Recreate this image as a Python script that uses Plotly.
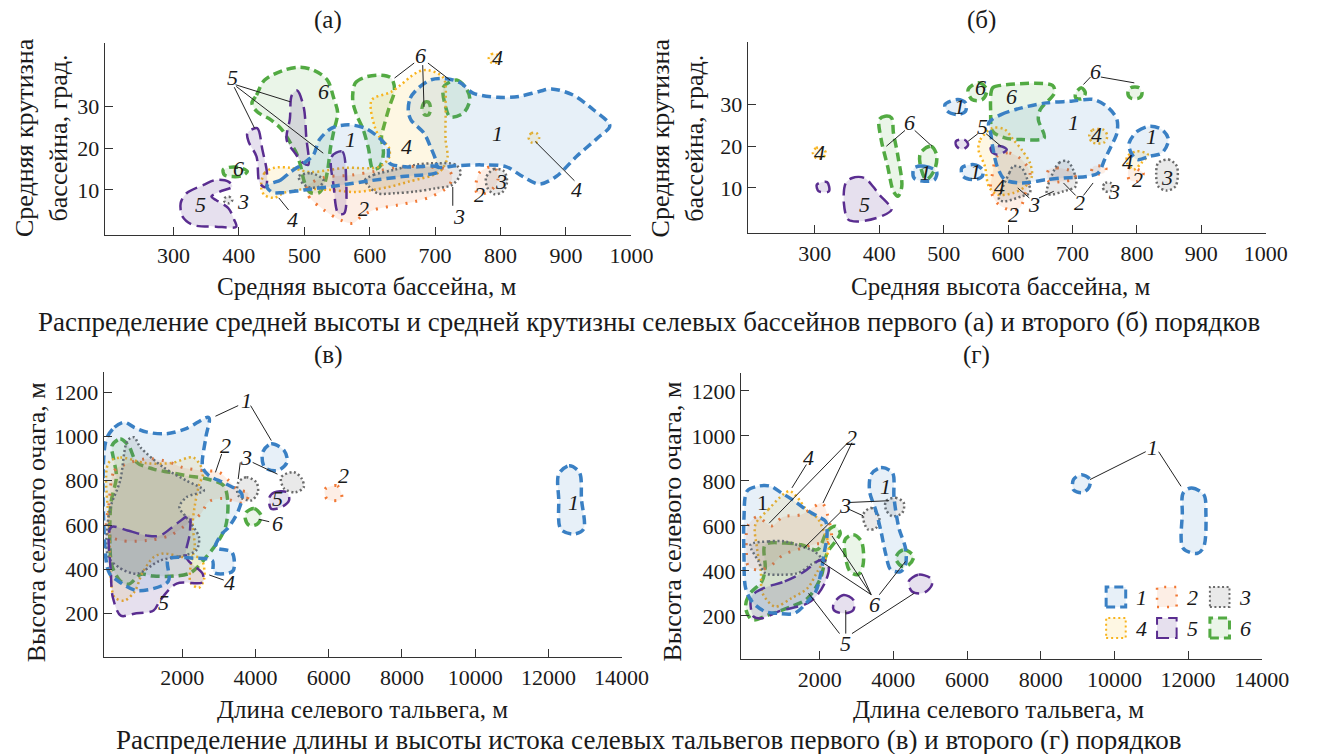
import plotly.graph_objects as go

FONT = "Liberation Serif"
W, H = 1326, 754

# ---------------- class styles ----------------
CLASSES = [1, 2, 3, 4, 5, 6]
LINE_COLORS = {1: "#3a80c4", 2: "#f27935", 3: "#6b6b6b", 4: "#f8b41e", 5: "#5a2d90", 6: "#52aa42"}
FILL_COLORS = {1: "rgba(58,128,196,0.12)", 2: "rgba(242,121,53,0.13)", 3: "rgba(107,107,107,0.15)",
               4: "rgba(248,190,40,0.13)", 5: "rgba(90,45,144,0.15)", 6: "rgba(82,170,66,0.12)"}
DASHES = {1: "9px,5px", 2: "2px,8px", 3: "2px,2.5px", 4: "2px,3px", 5: "12px,6px", 6: "9px,5px"}
WIDTHS = {1: 3.5, 2: 3, 3: 2.5, 4: 2.5, 5: 2.5, 6: 3.5}

# ---------------- panel (а) ----------------
a1_big = [(659, 29), (662, 32), (675, 34.5), (694, 36.4), (720, 36.6), (739, 35.6), (758, 33.2), (796, 32.2),
          (828, 32.4), (859, 33.6), (878, 34.2), (910, 32.8), (942, 29.2), (967, 25.4), (948, 22.4), (916, 18),
          (885, 13.2), (859, 11.4), (834, 13.2), (808, 15.6), (771, 16), (732, 15.8), (704, 15.5), (701, 17.2),
          (693, 20.3), (683, 23.6), (663, 26.8)]
a1_left = [(443, 11), (464, 12.4), (479, 14.3), (499, 16.4), (514, 18.4), (523, 22), (542, 24.8), (567, 25.6),
           (593, 24.8), (612, 22.8), (628, 20), (630, 16.5), (660, 15.5), (704, 15.5), (704, 14.3), (650, 13.2),
           (600, 12.2), (550, 11), (500, 10), (464, 9.3), (450, 9.5)]
a2_main = [(504, 10.8), (507, 8.4), (530, 5.2), (555, 2.8), (574, 2), (587, 3.6), (606, 5.2), (644, 6.4),
           (669, 7.2), (694, 8.4), (720, 10.8), (726, 13.2), (720, 14.8), (690, 15.5), (650, 15.5), (610, 14.5),
           (570, 13.5), (530, 13)]
a2_small = [(764, 9.2), (767, 14), (790, 15.6), (796, 12.4), (783, 9.6)]
a3_main = [(593, 12.4), (606, 13.6), (637, 14.8), (669, 16), (701, 16.4), (732, 16), (739, 14), (726, 11.2),
           (701, 10.4), (669, 9.6), (637, 9.2), (612, 9.2), (599, 10.8)]
a3_mid = [(491, 13.2), (510, 14), (529, 12.4), (523, 10.8), (504, 10.8)]
a3_right = [(778, 13), (790, 15), (805, 14.5), (810, 12), (803, 9.5), (790, 9), (780, 10.5)]
a3_tiny = [(378, 8), (385, 8.4), (390, 7.6), (385, 6.8), (378, 7.2)]
a4_main = [(434, 10.7), (439, 14), (454, 15.3), (479, 15.3), (509, 14.3), (563, 15.3), (614, 15.5), (630, 17.9),
           (629, 20.3), (618, 22), (608, 25), (603, 31.5), (633, 33.5), (674, 38.3), (689, 38.7), (713, 36.8),
           (716, 30), (716, 22), (719, 17.9), (713, 15.5), (704, 14), (660, 12), (629, 10.7), (578, 9.5),
           (540, 10), (500, 10.2), (469, 9.3), (454, 8.1), (439, 8.8)]
a4_top = [(782, 41.5), (786, 42.5), (794, 42.5), (798, 41.5), (794, 40.5), (786, 40.5)]
a4_right = [(843, 22.5), (847, 23.6), (855, 23.6), (859, 22.5), (855, 21.4), (847, 21.4)]
a5_c = [(311, 6.8), (320, 9.2), (346, 11.2), (365, 12.4), (384, 12), (390, 10.8), (371, 9.6), (358, 8.4),
        (365, 7.6), (384, 5.6), (393, 2.8), (396, 1.2), (365, 1.2), (330, 1.6), (314, 3.6)]
a5_a = [(413, 23.6), (428, 24.8), (436, 19.6), (443, 14), (441, 10.7), (432, 11.5), (427, 18), (415, 21.5)]
a5_b = [(481, 32.7), (489, 33.8), (499, 29.9), (503, 22.7), (506, 16), (498, 16.5), (485, 19), (473, 22), (478, 27)]
a5_d = [(542, 18), (558, 19.2), (564, 12.4), (561, 4.4), (552, 4.4), (545, 10.8)]
a6_big = [(420, 30.8), (427, 32.7), (439, 36.3), (469, 38.7), (494, 39.4), (514, 38.7), (535, 36.4), (545, 32),
          (551, 28.5), (545, 24), (540, 20), (536, 15), (530, 11), (522, 9.3), (508, 9.5), (500, 12), (494, 16),
          (488, 18.8), (479, 21.2), (466, 24.4), (449, 26.8), (428, 28.7)]
a6_small = [(376, 14.8), (385, 15.4), (400, 15.4), (413, 14.4), (405, 13.4), (390, 13.2), (378, 13.6)]
a6_mid = [(574, 31.5), (578, 35.6), (593, 37), (617, 37.5), (633, 36.8), (638, 33.9), (630, 29.9), (623, 26),
          (618, 22.7), (621, 18.8), (615, 15.5), (605, 15), (598, 20), (590, 24.5), (580, 28)]
a6_right = [(713, 34.7), (734, 36.3), (749, 33.9), (753, 31.5), (743, 28.4), (723, 27.5), (716, 29.9)]
a6_tiny = [(680, 29.5), (684, 31), (690, 31), (693, 29.5), (690, 28), (684, 28)]

A_LABELS = [("1", 571, 22), ("1", 796, 23.6), ("2", 590, 5.6), ("2", 768, 8.8), ("3", 406, 7.2), ("3", 800, 12),
            ("3", 736, 3.6), ("4", 656, 20.4), ("4", 796, 41.8), ("4", 482, 3.0), ("4", 916, 10),
            ("5", 342, 6.4), ("5", 390, 37), ("6", 399, 15.2), ("6", 530, 33.6), ("6", 678, 42.3)]
A_LEADERS = [((395, 35.2), (479, 31.1)), ((393, 34.6), (424, 24.8)), ((396, 34.8), (529, 18.8)),
             ((668, 40.4), (638, 36.8)), ((681, 39.9), (683, 29.9)), ((689, 40.4), (723, 36.3)),
             ((476, 5.2), (461, 8.1)), ((727, 6.2), (727, 10.7)), ((913, 12.2), (853, 21.6))]

# ---------------- panel (б) ----------------
b1_big = [(570, 25.6), (589, 27.6), (621, 29.2), (660, 30.4), (698, 30.8), (733, 31.2), (756, 29.2), (769, 26.4),
          (769, 23.2), (760, 20), (750, 16.8), (740, 13.6), (724, 12.8), (686, 12.4), (660, 12), (621, 11.2),
          (595, 12), (583, 15.2), (576, 20), (573, 23.2)]
b1_s1 = [(502, 30), (522, 31.2), (534, 30.4), (534, 28.4), (522, 27.6), (506, 28.4)]
b1_s2 = [(528, 14.8), (547, 15.6), (560, 14.4), (560, 12.8), (547, 12), (530, 12.8)]
b1_s3 = [(454, 14.8), (470, 15.2), (489, 14), (486, 12), (470, 11.6), (454, 12.4)]
b1_s4 = [(788, 20.8), (801, 23.6), (820, 24.8), (839, 24), (849, 21.6), (839, 18.4), (820, 17.6), (801, 16.8),
         (791, 18.4)]
b2_a = [(583, 17.6), (602, 18.4), (621, 16.8), (634, 13.6), (627, 8.8), (618, 5.2), (602, 4.8), (583, 6.4),
        (573, 9.6), (576, 13.6)]
b2_b = [(663, 14.4), (676, 14.8), (698, 14), (705, 12.4), (686, 11.6), (663, 11.6)]
b2_c = [(733, 15.2), (752, 14.8), (749, 13.6), (730, 13.6)]
b2_d = [(788, 14.8), (810, 13.6), (801, 11.6), (788, 12)]
b3_a = [(586, 7.2), (602, 13.6), (608, 15.2), (621, 14.8), (630, 12), (634, 8.8), (621, 8), (595, 6.8)]
b3_b = [(660, 8.8), (679, 16), (692, 16.4), (702, 14), (705, 10.4), (686, 9.2), (666, 8.4)]
b3_c = [(747, 10.2), (751, 11.2), (759, 11.2), (763, 10.2), (759, 9.2), (751, 9.2)]
b3_d = [(833, 16), (849, 16.8), (862, 15.2), (860, 10.4), (846, 9.4), (833, 10.4), (830, 13.6)]
b4_a = [(297, 18.4), (302, 19.6), (312, 19.6), (317, 18.4), (312, 17.2), (302, 17.2)]
b4_b = [(554, 19.2), (557, 21.6), (576, 24.4), (595, 24), (608, 21.6), (621, 19.2), (634, 16), (637, 12.8),
        (627, 10.4), (608, 8.8), (583, 8.4), (570, 10.4), (564, 15.2)]
b4_c = [(726, 22.4), (731, 23.9), (749, 23.9), (754, 22.4), (749, 20.9), (731, 20.9)]
b4_d = [(785, 17.6), (801, 18.8), (817, 18), (807, 16), (795, 14.4), (785, 16)]
b5_a = [(303, 10.8), (319, 11.4), (322, 9.2), (306, 9.2)]
b5_b = [(348, 11.2), (358, 12.4), (377, 12.4), (390, 10.4), (400, 8.4), (419, 4.8), (403, 3.2), (371, 2),
        (352, 2.4), (345, 6.4)]
b5_c = [(519, 21.2), (532, 21.6), (538, 20.4), (529, 19.2), (520, 20)]
b5_d = [(573, 19.6), (589, 20), (598, 19.2), (586, 18), (576, 18.4)]
b6_a = [(400, 26.4), (409, 27.2), (419, 26.8), (422, 23.2), (429, 17.6), (435, 10.4), (429, 8), (422, 9.2),
        (413, 15.2), (403, 21.6)]
b6_b = [(464, 18.4), (480, 20), (489, 18), (486, 14.4), (473, 12), (464, 15.2)]
b6_c = [(538, 33.6), (554, 35.2), (567, 33.6), (560, 31.2), (544, 31.2)]
b6_d = [(573, 28), (576, 34), (589, 34.6), (669, 34.6), (672, 32.8), (650, 28.8), (647, 26.4), (656, 22),
        (621, 21.6), (595, 22), (576, 23.6)]
b6_e = [(705, 32.8), (714, 34), (720, 32.8), (714, 31.4), (705, 31.6)]
b6_f = [(786, 32.8), (790, 34), (804, 34), (808, 32.8), (804, 31.6), (790, 31.6)]

B_LABELS = [("1", 525, 29.6), ("1", 701, 25.6), ("1", 550, 14), ("1", 472, 13.6), ("1", 823, 22.4),
            ("2", 608, 3.6), ("2", 711, 6.4), ("2", 801, 12), ("3", 641, 6), ("3", 765, 9.2), ("3", 846, 12.4),
            ("4", 307, 18.4), ("4", 738, 22.8), ("4", 586, 10.4), ("4", 785, 16.4), ("5", 377, 6),
            ("5", 560, 24.8), ("6", 447, 25.6), ("6", 605, 32), ("6", 557, 34), ("6", 736, 38)]
B_LEADERS = [((440, 23.8), (411, 20)), ((455, 23.8), (482, 20)), ((728, 36.6), (717, 34.8)),
             ((744, 36.6), (796, 35.2)), ((553, 23), (538, 21.2)), ((566, 23), (589, 20)),
             ((633, 7.6), (615, 10)), ((648, 7.6), (671, 9.2)), ((705, 8.2), (686, 11.2)),
             ((717, 8.2), (732, 11.2))]

# ---------------- panel (в) ----------------
c1_big = [(-90, 980), (147, 1042), (414, 1065), (682, 1042), (1037, 1020), (1571, 1013), (2106, 1036), (2722, 1086),
          (2642, 997), (2553, 861), (2722, 824), (3176, 787), (3622, 741), (3530, 665), (3260, 589), (3088, 561),
          (2909, 499), (3355, 477), (3390, 394), (3176, 380), (2856, 386), (2820, 439), (2300, 450), (1614, 445),
          (1614, 345), (768, 303), (236, 348), (13, 380), (-90, 450)]
c1_s = [(4194, 929), (4425, 967), (4780, 937), (4860, 884), (4594, 846), (4247, 861)]
c1_far = [(12283, 830), (12565, 868), (12848, 838), (12904, 717), (12961, 581), (12678, 559), (12339, 581),
          (12283, 717)]
c2_big = [(0, 700), (147, 846), (503, 878), (1037, 900), (1652, 884), (2005, 860), (2553, 846), (3000, 839),
          (3269, 801), (3500, 760), (3800, 745), (3700, 700), (3100, 720), (2722, 705), (2500, 650), (2100, 600),
          (1652, 552), (1037, 530), (318, 530), (-50, 560)]
c2_small = [(5898, 762), (6237, 777), (6350, 717), (5955, 717)]
c3_big = [(-30, 460), (318, 403), (768, 380), (1390, 439), (2018, 461), (2373, 484), (2456, 544), (2106, 635),
          (1920, 680), (2106, 725), (2589, 756), (2106, 801), (1483, 861), (852, 952), (682, 997), (503, 982),
          (300, 800), (13, 665)]
c3_s1 = [(3530, 793), (3750, 816), (4020, 793), (4063, 748), (3880, 711), (3530, 733)]
c3_s2 = [(4700, 816), (5047, 839), (5260, 810), (5315, 771), (5090, 748), (4780, 765)]
c4_big = [(-20, 880), (305, 905), (1000, 880), (1700, 880), (2300, 905), (2565, 838), (2452, 778), (2339, 687),
          (2282, 596), (2339, 505), (2226, 415), (2226, 339), (2452, 316), (2600, 360), (2500, 450), (2000, 455),
          (1483, 471), (1214, 454), (900, 380), (700, 300), (414, 258), (147, 273), (50, 348), (13, 561)]
c5_big = [(50, 590), (503, 575), (1037, 552), (1390, 552), (1845, 606), (2193, 642), (2200, 560), (2106, 454),
          (2553, 380), (2553, 341), (1845, 335), (1390, 258), (1214, 213), (682, 199), (318, 190), (100, 273),
          (50, 380)]
c5_s = [(4380, 725), (4514, 748), (4860, 748), (4914, 711), (4700, 680), (4425, 674)]
c6_big = [(79, 959), (305, 989), (531, 959), (757, 883), (1209, 853), (1661, 838), (2113, 823), (2678, 808),
          (3130, 778), (3243, 702), (3186, 596), (3017, 536), (2678, 460), (2226, 384), (1774, 369), (1209, 369),
          (870, 377), (531, 332), (305, 347), (79, 415), (22, 505), (50, 700), (200, 820), (120, 900)]
c6_s = [(3750, 658), (3965, 674), (4153, 642), (4063, 606), (3840, 597), (3720, 628)]

C_LABELS = [("1", 3752, 1163), ("2", 3187, 959), ("3", 3752, 906), ("2", 6407, 823), ("5", 4600, 722),
            ("6", 4600, 606), ("4", 3300, 339), ("5", 1492, 248), ("1", 12678, 702)]
C_LEADERS = [((3526, 1140), (2904, 1092)), ((3865, 1140), (4430, 982)), ((3074, 921), (2904, 838)),
             ((3582, 883), (3526, 808)), ((3921, 883), (4599, 830)), ((4373, 615), (4091, 626)),
             ((3130, 351), (2735, 374))]

# ---------------- panel (г) ----------------
d1_big = [(-55, 635), (32, 755), (343, 777), (654, 777), (962, 747), (1318, 710), (1627, 673), (1937, 643),
          (2158, 621), (2200, 560), (2115, 472), (2025, 383), (1893, 308), (1672, 263), (1318, 211), (875, 211),
          (521, 219), (165, 263), (-10, 323), (-55, 472)]
d1_tall = [(3399, 829), (3664, 859), (3975, 836), (4018, 725), (4150, 591), (4329, 501), (4329, 427), (4196, 397),
           (3930, 405), (3797, 472), (3664, 576), (3531, 665), (3354, 755)]
d1_s = [(8888, 806), (9112, 828), (9337, 806), (9303, 769), (9112, 747), (8888, 761)]
d1_far = [(11865, 746), (12090, 769), (12427, 739), (12483, 657), (12427, 508), (12258, 478), (11865, 501),
          (11843, 657)]
d2_big = [(11, 493), (50, 600), (300, 640), (700, 600), (1000, 640), (1500, 650), (1865, 687), (2067, 702),
          (2225, 642), (2315, 538), (2180, 523), (1900, 520), (1500, 500), (1000, 470), (650, 420), (348, 404),
          (67, 419)]
d3_big = [(123, 516), (609, 531), (1053, 531), (1495, 509), (1849, 487), (2025, 457), (1760, 427), (1406, 390),
          (962, 383), (521, 390), (343, 442)]
d3_s1 = [(3178, 650), (3399, 680), (3619, 635), (3531, 591), (3310, 584)]
d3_s2 = [(3797, 710), (4063, 725), (4284, 702), (4240, 658), (3975, 643), (3797, 673)]
d4_big = [(255, 606), (609, 673), (1008, 740), (1186, 755), (1406, 725), (1672, 665), (1937, 635), (2115, 576),
          (2248, 516), (2204, 472), (1937, 397), (1672, 323), (1230, 278), (787, 241), (450, 300), (400, 400),
          (300, 500)]
d5_big = [(476, 323), (1053, 353), (1584, 397), (1937, 442), (2115, 450), (2248, 412), (2159, 353), (1937, 293),
          (1672, 256), (875, 219), (431, 189), (210, 196), (123, 249), (165, 290)]
d5_s1 = [(2382, 256), (2648, 293), (2913, 271), (2913, 226), (2648, 211), (2382, 226)]
d5_s2 = [(4417, 353), (4683, 383), (5001, 368), (5046, 338), (4815, 301), (4506, 308)]
d6_big = [(521, 516), (1053, 524), (1495, 516), (1937, 494), (2204, 576), (2425, 598), (2558, 568), (2425, 531),
          (2200, 480), (2025, 368), (1672, 278), (1230, 241), (609, 204), (165, 182), (-10, 234), (78, 293),
          (431, 353), (521, 412)]
d6_s1 = [(2690, 539), (2913, 561), (3133, 531), (3178, 427), (3045, 383), (2825, 397), (2690, 472)]
d6_s2 = [(4063, 457), (4284, 494), (4550, 464), (4417, 427), (4240, 420)]

D_LABELS = [("1", 11022, 947), ("1", 3775, 776), ("2", 2876, 992), ("4", 1697, 903), ("3", 2680, 690),
            ("6", 3480, 250), ("5", 2708, 76)]
D_UPRIGHT_LABELS = [("1", 461, 702)]
D_LEADERS = [((10850, 930), (9337, 806)), ((11200, 930), (11809, 776)), ((2764, 970), (629, 612)),
             ((2876, 970), (2090, 702)), ((1640, 873), (1247, 769)), ((2780, 704), (3885, 712)),
             ((2780, 675), (3178, 645)), ((2558, 660), (1584, 503)), ((3399, 294), (2025, 443)),
             ((3399, 294), (2336, 555)), ((3399, 294), (3133, 390)), ((3619, 294), (4329, 442)),
             ((2539, 121), (1697, 300)), ((2708, 121), (2708, 225)), ((2876, 121), (4562, 300))]

# ---------------- axes ----------------
X_TICKS_AB = [300, 400, 500, 600, 700, 800, 900, 1000]
Y_TICKS_AB = [10, 20, 30]
X_TICKS_CD = [2000, 4000, 6000, 8000, 10000, 12000, 14000]
Y_TICKS_CD = [200, 400, 600, 800, 1000, 1200]

PANELS = {
    "a": dict(ax="", px=(107, 645), py=(43, 235), xr=[195, 1000], yr=[-0.8, 45.2], xt=X_TICKS_AB, yt=Y_TICKS_AB,
              polys={1: [a1_big, a1_left], 2: [a2_main, a2_small], 3: [a3_main, a3_mid, a3_right, a3_tiny],
                     4: [a4_main, a4_top, a4_right], 5: [a5_c, a5_a, a5_b, a5_d],
                     6: [a6_big, a6_small, a6_mid, a6_right, a6_tiny]},
              labels=A_LABELS, leaders=A_LEADERS),
    "b": dict(ax="2", px=(764, 1293), py=(42, 233), xr=[196, 1000], yr=[-0.8, 45], xt=X_TICKS_AB, yt=Y_TICKS_AB,
              polys={1: [b1_big, b1_s1, b1_s2, b1_s3, b1_s4], 2: [b2_a, b2_b, b2_c, b2_d],
                     3: [b3_a, b3_b, b3_c, b3_d], 4: [b4_a, b4_b, b4_c, b4_d], 5: [b5_a, b5_b, b5_c, b5_d],
                     6: [b6_a, b6_b, b6_c, b6_d, b6_e, b6_f]},
              labels=B_LABELS, leaders=B_LEADERS),
    "c": dict(ax="3", px=(106, 635), py=(372, 657), xr=[-147, 14000], yr=[3, 1292], xt=X_TICKS_CD, yt=Y_TICKS_CD,
              polys={1: [c1_big, c1_s, c1_far], 2: [c2_big, c2_small], 3: [c3_big, c3_s1, c3_s2],
                     4: [c4_big], 5: [c5_big, c5_s], 6: [c6_big, c6_s]},
              labels=C_LABELS, leaders=C_LEADERS),
    "d": dict(ax="4", px=(757, 1289), py=(373, 659), xr=[-135, 14000], yr=[8, 1280], xt=X_TICKS_CD, yt=Y_TICKS_CD,
              polys={1: [d1_big, d1_tall, d1_s, d1_far], 2: [d2_big], 3: [d3_big, d3_s1, d3_s2],
                     4: [d4_big], 5: [d5_big, d5_s1, d5_s2], 6: [d6_big, d6_s1, d6_s2]},
              labels=D_LABELS, leaders=D_LEADERS),
}
DRAW_ORDER = [6, 4, 2, 3, 5, 1]

PANEL_TITLES = [("(а)", 335, 20), ("(б)", 1003, 20), ("(в)", 335, 355), ("(г)", 998, 355)]
X_TITLES = [("Средняя высота бассейна, м", 374, 287), ("Средняя высота бассейна, м", 1022, 287),
            ("Длина селевого тальвега, м", 370, 709), ("Длина селевого тальвега, м", 1020, 709)]
Y_TITLES = [("Средняя крутизна<br>бассейна, град.", 42, 138), ("Средняя крутизна<br>бассейна, град.", 692, 138),
            ("Высота селевого очага, м", 37, 522), ("Высота селевого очага, м", 686, 522)]
CAPTION_TOP = ("Распределение средней высоты и средней крутизны селевых бассейнов первого (а) и второго (б) порядков",
               663, 322)
CAPTION_BOTTOM = ("Распределение длины и высоты истока селевых тальвегов первого (в) и второго (г) порядков",
                  663, 740)

LEGEND_LABELS = ["1", "2", "3", "4", "5", "6"]
LEGEND_COLS = [1140, 1192, 1246]
LEGEND_ROWS = [597, 628]

TICK_SIZE = 22
TITLE_SIZE = 25
CAPTION_SIZE = 27
LABEL_SIZE = 22


def fx(px):
    return px / W


def fy(py):
    return 1 - py / H


fig = go.Figure()
annotations = []
layout_axes = {}

for key, p in PANELS.items():
    xa, ya = "x" + p["ax"], "y" + p["ax"]
    for cls in DRAW_ORDER:
        for poly in p["polys"][cls]:
            xs = [pt[0] for pt in poly] + [poly[0][0]]
            ys = [pt[1] for pt in poly] + [poly[0][1]]
            fig.add_trace(go.Scatter(
                x=xs, y=ys, xaxis=xa, yaxis=ya, mode="lines", fill="toself",
                fillcolor=FILL_COLORS[cls],
                line=dict(color=LINE_COLORS[cls], dash=DASHES[cls], width=WIDTHS[cls], shape="spline",
                          smoothing=0.9),
                name=str(cls), showlegend=False, hoverinfo="skip"))
    lx, ly = [], []
    for (x0, y0), (x1, y1) in p["leaders"]:
        lx += [x0, x1, None]
        ly += [y0, y1, None]
    fig.add_trace(go.Scatter(x=lx, y=ly, xaxis=xa, yaxis=ya, mode="lines",
                             line=dict(color="#222", width=1), showlegend=False, hoverinfo="skip"))
    for t, x, y in p["labels"]:
        annotations.append(dict(x=x, y=y, xref=xa, yref=ya, text="<i>%s</i>" % t, showarrow=False,
                                font=dict(family=FONT, size=LABEL_SIZE, color="#1a1a1a")))
    axis_common = dict(showline=True, linecolor="#333", linewidth=1.3, ticks="inside", ticklen=8,
                       tickwidth=1.3, tickcolor="#333", showgrid=False, zeroline=False,
                       tickfont=dict(family=FONT, size=TICK_SIZE, color="#1a1a1a"))
    xname = "xaxis" + p["ax"]
    yname = "yaxis" + p["ax"]
    layout_axes[xname] = dict(axis_common, domain=[fx(p["px"][0]), fx(p["px"][1])], range=p["xr"],
                              anchor=ya, tickvals=p["xt"], ticktext=[str(v) for v in p["xt"]])
    layout_axes[yname] = dict(axis_common, domain=[fy(p["py"][1]), fy(p["py"][0])], range=p["yr"],
                              anchor=xa, tickvals=p["yt"], ticktext=[str(v) for v in p["yt"]])

for t, x, y in D_UPRIGHT_LABELS:
    annotations.append(dict(x=x, y=y, xref="x4", yref="y4", text=t, showarrow=False,
                            font=dict(family=FONT, size=LABEL_SIZE, color="#1a1a1a")))

for t, x, y in PANEL_TITLES + X_TITLES:
    annotations.append(dict(x=fx(x), y=fy(y), xref="paper", yref="paper", text=t, showarrow=False,
                            xanchor="center", yanchor="middle",
                            font=dict(family=FONT, size=TITLE_SIZE, color="#1a1a1a")))
for t, x, y in (CAPTION_TOP, CAPTION_BOTTOM):
    annotations.append(dict(x=fx(x), y=fy(y), xref="paper", yref="paper", text=t, showarrow=False,
                            xanchor="center", yanchor="middle", borderpad=0,
                            font=dict(family=FONT, size=CAPTION_SIZE, color="#1a1a1a")))
for t, x, y in Y_TITLES:
    annotations.append(dict(x=fx(x), y=fy(y), xref="paper", yref="paper", text=t, showarrow=False,
                            xanchor="center", yanchor="middle", textangle=-90,
                            font=dict(family=FONT, size=TITLE_SIZE + 1, color="#1a1a1a")))

# legend (panel г): dashed boxes + italic numbers
shapes = []
for i, lab in enumerate(LEGEND_LABELS):
    cls = CLASSES[i]
    cx = LEGEND_COLS[i % 3]
    cy = LEGEND_ROWS[i // 3]
    shapes.append(dict(type="rect", xref="paper", yref="paper",
                       x0=fx(cx - 10), x1=fx(cx + 10), y0=fy(cy + 10), y1=fy(cy - 10),
                       line=dict(color=LINE_COLORS[cls], dash=DASHES[cls], width=WIDTHS[cls] - 0.5),
                       fillcolor=FILL_COLORS[cls]))
    annotations.append(dict(x=fx(cx + 26), y=fy(cy), xref="paper", yref="paper", text="<i>%s</i>" % lab,
                            showarrow=False, xanchor="center", yanchor="middle",
                            font=dict(family=FONT, size=LABEL_SIZE, color="#1a1a1a")))

fig.update_layout(width=W, height=H, margin=dict(l=0, r=0, t=0, b=0), paper_bgcolor="white",
                  plot_bgcolor="white", showlegend=False, annotations=annotations, shapes=shapes,
                  font=dict(family=FONT, size=21, color="#1a1a1a"), **layout_axes)

fig.write_html("out.html", config={"displayModeBar": False},
               post_script="document.body.style.margin='0px';")
